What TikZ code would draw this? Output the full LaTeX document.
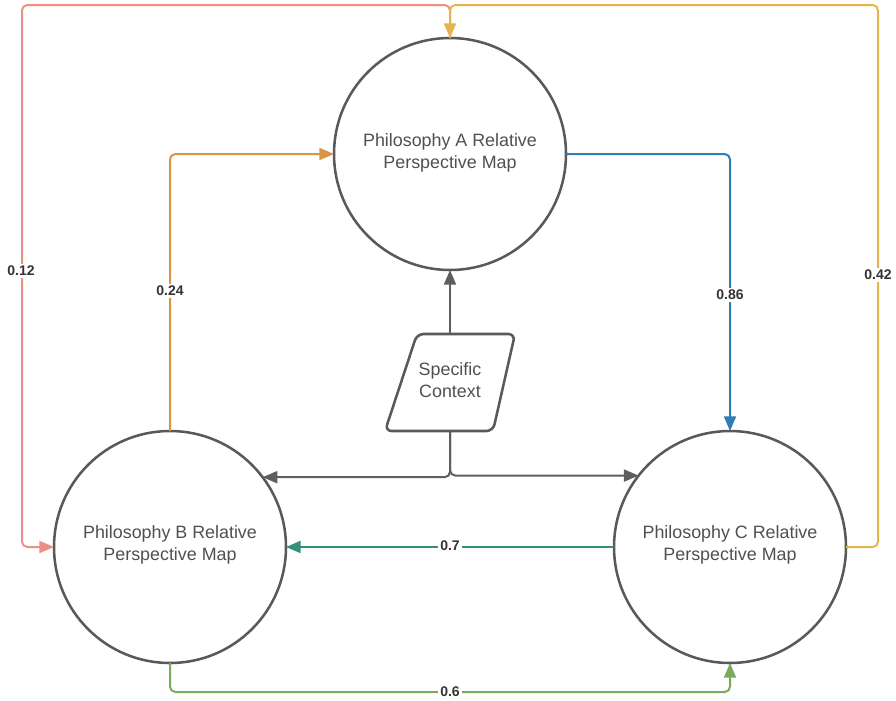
\documentclass[tikz,border=0pt]{standalone}
\usepackage{fontspec}
\setmainfont{Liberation Sans}
\usetikzlibrary{arrows.meta}

\definecolor{ring}{HTML}{595959}
\definecolor{linkgray}{HTML}{5E5E5E}
\definecolor{labelink}{HTML}{333333}
\definecolor{pinkline}{HTML}{EC8F86}
\definecolor{goldline}{HTML}{E6B44C}
\definecolor{amberline}{HTML}{DA9446}
\definecolor{blueline}{HTML}{2F7DB5}
\definecolor{tealline}{HTML}{33907A}
\definecolor{greenline}{HTML}{7BAA5A}

\tikzset{
  mapcircle/.style={circle, draw=ring, line width=1.9pt, minimum size=174pt,
    inner sep=0pt, outer sep=0pt},
  maptext/.style={align=center, text=ring!90!black,
    font=\fontsize{13.4}{16.5}\selectfont},
  link/.style={line width=1.5pt, rounded corners=4pt,
    -{Triangle[length=11pt,width=9pt]}},
  weight/.style={fill=white, text=labelink, inner sep=1.5pt,
    font=\fontsize{10.5}{12}\selectfont\bfseries},
}

\begin{document}
\begin{tikzpicture}[x=0.75pt, y=-0.75pt]
  \useasboundingbox (0,0) rectangle (896,700);

  % the three perspective maps
  \node[mapcircle] (A) at (450,154) {};
  \node[mapcircle] (B) at (170,547) {};
  \node[mapcircle] (C) at (730,547) {};
  \node[maptext] (Atxt) at (450,153) {Philosophy A Relative\\Perspective Map};
  \node[maptext] (Btxt) at (170,545) {Philosophy B Relative\\Perspective Map};
  \node[maptext] (Ctxt) at (730,545) {Philosophy C Relative\\Perspective Map};

  % context box (slanted)
  \node[minimum width=108*0.75pt, minimum height=97*0.75pt, inner sep=0pt,
        outer sep=0pt] (ctx) at (450,382.5) {};
  \draw[draw=ring, line width=1.9pt, rounded corners=5pt]
    ([xshift=-33*0.75pt]ctx.north) -- ([xshift=65*0.75pt]ctx.north)
    -- ([xshift=43*0.75pt]ctx.south) -- ([xshift=-65*0.75pt]ctx.south) -- cycle;
  \node[maptext] (ctxtxt) at (450,380.5) {Specific\\Context};

  % routing points
  \coordinate (pinkcorner) at (22,5);
  \coordinate (goldcorner) at (878,5);
  \coordinate (greenbase) at (450,692);

  % context feeds all three maps
  \draw[link, draw=linkgray] (ctx.north) -- (A.south);
  \draw[link, draw=linkgray] (ctx.south) |- (B.37.7);
  \draw[link, draw=linkgray] (ctx.south) |- (C.142.3);

  % weighted relations between maps
  \draw[link, draw=pinkline] (A.north) |- (pinkcorner) |- (B.west);
  \draw[link, draw=goldline] (C.east) -| (goldcorner) -| (A.north);
  \draw[link, draw=amberline] (B.north) |- (A.west);
  \draw[link, draw=blueline] (A.east) -| (C.north);
  \draw[link, draw=tealline] (C.west) -- (B.east);
  \draw[link, draw=greenline] (B.south) |- (greenbase) -| (C.south);

  % weights
  \node[weight] (w12) at (21,271) {0.12};
  \node[weight] (w24) at (170,291) {0.24};
  \node[weight] (w86) at (730,295) {0.86};
  \node[weight] (w42) at (878,275) {0.42};
  \node[weight] (w7) at (450,546) {0.7};
  \node[weight] (w6) at (greenbase) {0.6};
\end{tikzpicture}
\end{document}
